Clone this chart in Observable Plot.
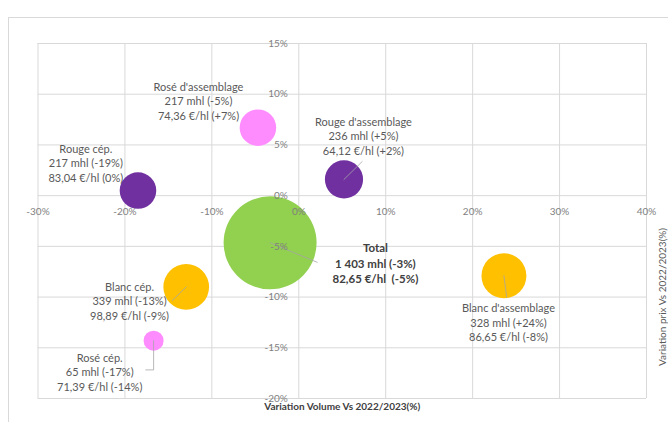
<!DOCTYPE html>
<html><head><meta charset="utf-8">
<script src="https://cdn.jsdelivr.net/npm/d3@7"></script>
<script src="https://cdn.jsdelivr.net/npm/@observablehq/plot@0.6"></script>
<style>
body{margin:0;background:#fff;}
#wrap{position:relative;width:668px;height:422px;overflow:hidden;}
#border{position:absolute;left:8px;top:17px;width:800px;height:600px;border-left:1px solid #d9d9d9;border-top:1px solid #d9d9d9;}
#chart{position:absolute;left:0;top:0;}
#ytitle{position:absolute;left:662px;top:297px;transform:translate(-50%,-50%) rotate(-90deg);white-space:nowrap;font:10px Lato, 'Open Sans', sans-serif;color:#595959;}
</style></head><body>
<div id="wrap"><div id="border"></div><div id="chart"></div><div id="ytitle">Variation prix Vs 2022/2023(%)</div></div>
<script>
// ---- data ----
const names = ["Rosé d'assemblage", "Rouge cép.", "Rouge d'assemblage", "Total", "Blanc cép.", "Blanc d'assemblage", "Rosé cép."];
const types = ["Rosé", "Rouge", "Rouge", "Total", "Blanc", "Blanc", "Rosé"];
const volumeVar = [-4.7, -18.5, 5.2, -3.3, -12.95, 23.6, -16.7];   // x, %
const priceVar  = [6.7, 0.5, 1.6, -4.65, -9.0, -7.9, -14.3];      // y, %
const volumes   = [217, 217, 236, 1403, 339, 328, 65];            // mhl
const volumeTxt = ["217", "217", "236", "1 403", "339", "328", "65"];
const volumePct = ["-5%", "-19%", "+5%", "-3%", "-13%", "+24%", "-17%"];
const priceTxt  = ["74,36", "83,04", "64,12", "82,65", "98,89", "86,65", "71,39"];
const pricePct  = ["+7%", "0%", "+2%", "-5%", "-9%", "-8%", "-14%"];
const xTicks = [-30, -20, -10, 0, 10, 20, 30, 40];
const yTicks = [-20, -15, -10, -5, 0, 5, 10, 15];
const typeDomain = ["Rosé", "Rouge", "Blanc", "Total"];

// ---- layout (label anchors & leader ends, in data units) ----
const labelX = [-11.54, -24.5, 7.44, 8.81, -19.47, 24.12, -22.9];
const labelY = [9.38, 3.27, 5.93, -6.6, -10.36, -12.46, -17.34];
const leaderX = [null, null, 7.29, 2.12, -14.56, 23.92, -17.6];
const leaderY = [null, null, 3.36, -6.57, -10.34, -10.02, -17.18];

const rows = names.map((n, i) => ({
  name: n, type: types[i], x: volumeVar[i], y: priceVar[i], vol: volumes[i],
  lx: labelX[i], ly: labelY[i],
  label: n === "Total"
    ? `Total\n${volumeTxt[i]} mhl (${volumePct[i]})\n${priceTxt[i]} €/hl  (${pricePct[i]})`
    : `${n}\n${volumeTxt[i]} mhl (${volumePct[i]})\n${priceTxt[i]} €/hl (${pricePct[i]})`
}));

const leaders = [];
rows.forEach((r, i) => {
  if (leaderX[i] == null) return;
  leaders.push({z: r.name, x: r.x, y: r.y});
  if (r.name === "Rosé cép.") leaders.push({z: r.name, x: r.x, y: leaderY[i]});
  leaders.push({z: r.name, x: leaderX[i], y: leaderY[i]});
});

const font = "Lato, 'Open Sans', sans-serif";
const chart = Plot.plot({
  width: 668, height: 422,
  marginLeft: 37.5, marginRight: 22, marginTop: 43, marginBottom: 24,
  x: {domain: [-30, 40], axis: null},
  y: {domain: [-20, 15], axis: null},
  r: {domain: [0, 1403], range: [0, 46.5]},
  color: {domain: typeDomain, range: ["#ff8cff", "#7030a0", "#ffc000", "#92d050"]},
  style: {fontFamily: font, background: "transparent", overflow: "visible"},
  marks: [
    Plot.ruleX(xTicks, {x: d => d, stroke: "#d9d9d9", strokeWidth: 1}),
    Plot.ruleY(yTicks, {y: d => d, stroke: "#d9d9d9", strokeWidth: 1}),
    Plot.dot(rows, {x: "x", y: "y", r: "vol", fill: "type", stroke: "none"}),
    Plot.line(leaders, {x: "x", y: "y", z: "z", stroke: "#a6a6a6", strokeWidth: 0.8, curve: "linear"}),
    Plot.text(xTicks, {x: d => d, y: 0, dy: 16, text: d => `${d}%`, fill: "#7f7f7f", fontSize: 10}),
    Plot.text(yTicks, {x: 0, y: d => d, dx: -11, textAnchor: "end", text: d => `${d}%`, fill: "#7f7f7f", fontSize: 10}),
    Plot.text(rows.filter(d => d.name !== "Total"), {x: "lx", y: "ly", text: "label", fill: "#595959", fontSize: 11, lineHeight: 1.33}),
    Plot.text(rows.filter(d => d.name === "Total"), {x: "lx", y: "ly", text: "label", fill: "#404040", fontSize: 11.5, fontWeight: "bold", lineHeight: 1.36}),
    Plot.text(["Variation Volume Vs 2022/2023(%)"], {frameAnchor: "bottom", dy: 11, fontWeight: "bold", fill: "#404040", fontSize: 10})
  ]
});
document.getElementById("chart").appendChild(chart);
</script>
</body></html>
